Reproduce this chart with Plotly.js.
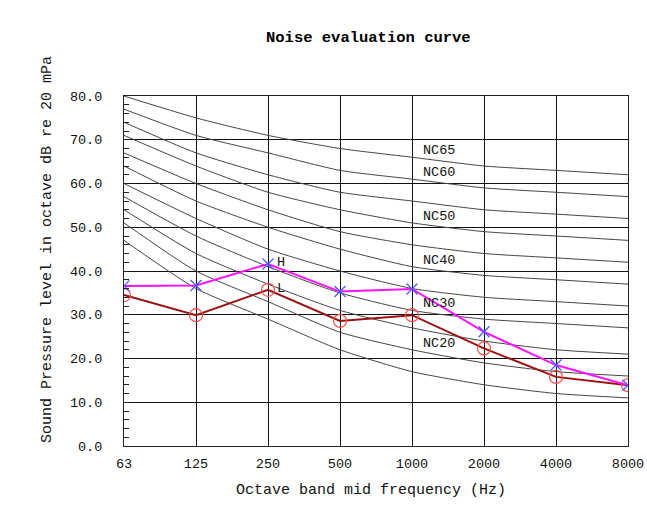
<!DOCTYPE html>
<html>
<head>
<meta charset="utf-8">
<script src="https://cdn.plot.ly/plotly-3.0.1.min.js"></script>
<style>html,body{margin:0;padding:0;background:#fff;}#chart{width:647px;height:508px;}</style>
</head>
<body>
<div id="chart"></div>
<script>
const freqs = ['63','125','250','500','1000','2000','4000','8000'];
const ncNames = ['NC15','NC20','NC25','NC30','NC35','NC40','NC45','NC50','NC55','NC60','NC65'];
const nc15 = [47,36,29,22,17,14,12,11];
const nc20 = [51,40,33,26,22,19,17,16];
const nc25 = [54,44,37,31,27,24,22,21];
const nc30 = [57,48,41,35,31,29,28,27];
const nc35 = [60,52,45,40,36,34,33,32];
const nc40 = [64,56,50,45,41,39,38,37];
const nc45 = [67,60,54,49,46,44,43,42];
const nc50 = [71,64,58,54,51,49,48,47];
const nc55 = [74,67,62,58,56,54,53,52];
const nc60 = [77,71,67,63,61,59,58,57];
const nc65 = [80,75,71,68,66,64,63,62];
const ncCurves = [nc15,nc20,nc25,nc30,nc35,nc40,nc45,nc50,nc55,nc60,nc65];
const labelledNC = ['NC20','NC30','NC40','NC50','NC60','NC65'];
const seriesH = [36.6,36.7,41.6,35.3,35.9,26.1,18.5,13.9];
const seriesL = [34.5,29.9,35.7,28.6,29.9,22.3,15.8,13.9];

const FONT = '"Liberation Mono", "DejaVu Sans Mono", monospace';
const traces = [];
ncCurves.forEach((vals,i)=>{
  traces.push({x:freqs,y:vals,type:'scatter',mode:'lines',name:ncNames[i],
    line:{color:'#444',width:1,shape:'spline',smoothing:0.6},hoverinfo:'skip'});
});
traces.push({x:freqs,y:seriesL,type:'scatter',mode:'lines+markers',name:'L',
  line:{color:'#9b1010',width:2},
  marker:{symbol:'circle-open',size:13,color:'#ff5050',line:{width:1.2,color:'#ff5050'}}});
traces.push({x:freqs,y:seriesH,type:'scatter',mode:'lines+markers',name:'H',
  line:{color:'#ff10ff',width:2},
  marker:{symbol:'x-thin-open',size:11,color:'#4a5cff',line:{width:1.3,color:'#4a5cff'}}});

const annotations = [];
ncCurves.forEach((vals,i)=>{
  if(labelledNC.indexOf(ncNames[i])>=0){
    annotations.push({x:4,y:vals[4],xref:'x',yref:'y',text:ncNames[i],showarrow:false,
      xanchor:'left',yanchor:'bottom',xshift:9,yshift:-3,font:{family:FONT,size:13.5,color:'#111'}});
  }
});
annotations.push({x:2,y:seriesH[2],text:'H',showarrow:false,xanchor:'left',yanchor:'middle',xshift:7,yshift:2,font:{family:FONT,size:13.5,color:'#111'}});
annotations.push({x:2,y:seriesL[2],text:'L',showarrow:false,xanchor:'left',yanchor:'middle',xshift:7,yshift:1,font:{family:FONT,size:13.5,color:'#111'}});
annotations.push({xref:'paper',yref:'paper',x:0.485,y:1,yshift:58,text:'<b>Noise evaluation curve</b>',showarrow:false,xanchor:'center',yanchor:'middle',font:{family:FONT,size:15.5,color:'#000'}});
annotations.push({xref:'paper',yref:'paper',x:0.49,y:0,yshift:-44,text:'Octave band mid frequency (Hz)',showarrow:false,xanchor:'center',yanchor:'middle',font:{family:FONT,size:15,color:'#111'}});
annotations.push({xref:'paper',yref:'paper',x:0,xshift:-77,y:0.5,yshift:21,text:'Sound Pressure level in octave dB re 20 mPa',textangle:-90,showarrow:false,xanchor:'center',yanchor:'middle',font:{family:FONT,size:15,color:'#111'}});

const layout = {
  width:647,height:508,
  margin:{l:124,r:19,t:96,b:62},
  paper_bgcolor:'#fff',plot_bgcolor:'#fff',
  showlegend:false,
  font:{family:FONT,size:13,color:'#111'},
  xaxis:{type:'category',range:[0,7],showgrid:true,gridcolor:'#111',gridwidth:1,
    showline:true,linecolor:'#222',linewidth:1,mirror:true,ticks:'',zeroline:false,
    ticklabelstandoff:5,
    tickfont:{family:FONT,size:13.5,color:'#111'}},
  yaxis:{range:[0,80],dtick:10,tickformat:'.1f',showgrid:true,gridcolor:'#111',gridwidth:1,
    showline:true,linecolor:'#222',linewidth:1,mirror:true,ticks:'inside',ticklen:5,tickcolor:'#222',
    zeroline:false,ticklabelstandoff:18,
    minor:{dtick:2,ticks:'inside',ticklen:5,tickcolor:'#222',showgrid:false},
    tickfont:{family:FONT,size:13.5,color:'#111'}},
  annotations:annotations
};
Plotly.newPlot('chart',traces,layout,{displayModeBar:false,staticPlot:true});
</script>
</body>
</html>
